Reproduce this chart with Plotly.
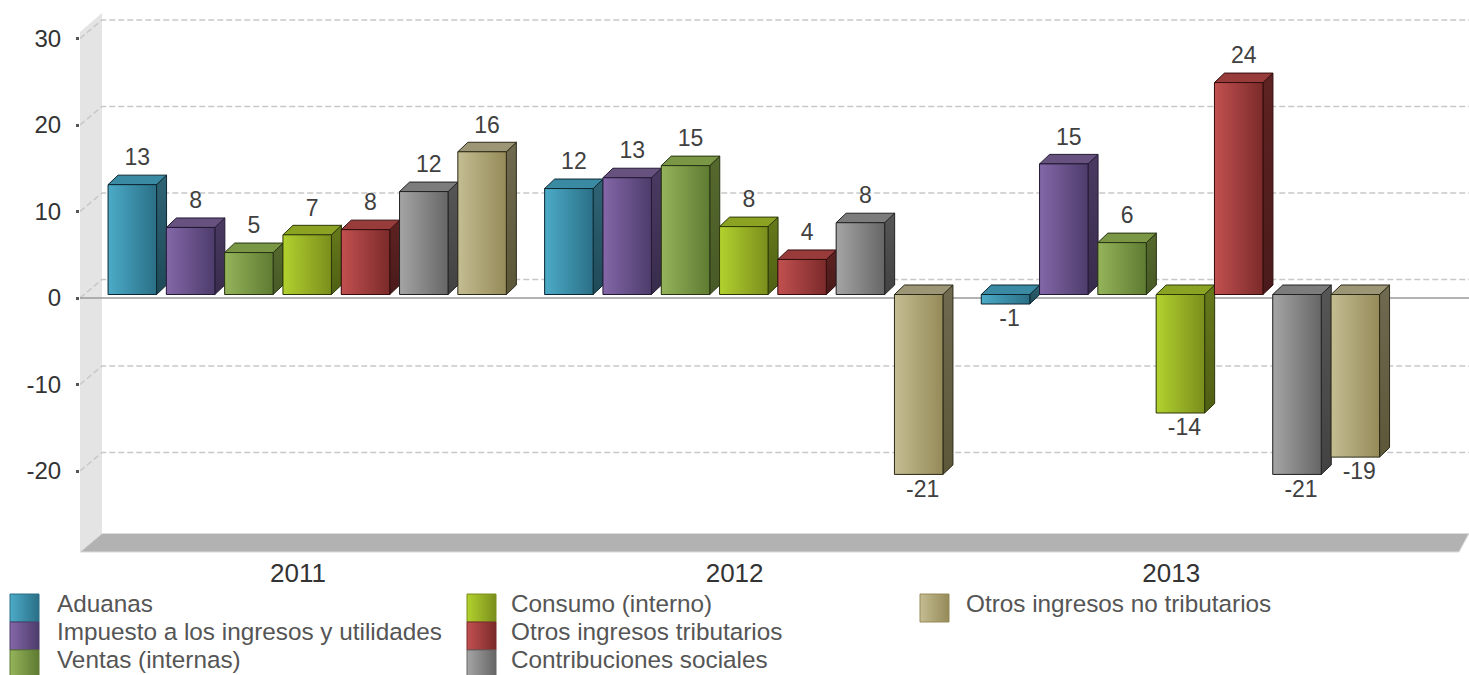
import plotly.graph_objects as go

W, H = 1469, 675
years = ["2011", "2012", "2013"]
series_names = ["Aduanas", "Impuesto a los ingresos y utilidades", "Ventas (internas)",
                "Consumo (interno)", "Otros ingresos tributarios", "Contribuciones sociales",
                "Otros ingresos no tributarios"]
aduanas = [12.7, 12.25, -1.1]
impuesto = [7.75, 13.5, 15.1]
ventas = [4.85, 14.9, 6.0]
consumo = [6.9, 7.85, -13.7]
otros_trib = [7.5, 4.05, 24.5]
contrib = [11.9, 8.3, -20.8]
otros_no_trib = [16.5, -20.8, -18.8]
values = [aduanas, impuesto, ventas, consumo, otros_trib, contrib, otros_no_trib]
labels = [[13, 12, -1], [8, 13, 15], [5, 15, 6], [7, 8, -14], [8, 4, 24], [12, 8, -21], [16, -21, -19]]
y_ticks = [-20, -10, 0, 10, 20, 30]
y_tick_text = ["-20", "-10", "0", "10", "20", "30"]

# (front-left, front-right, side-top, side-bottom, top, border)
palette = [
    ("#4cabc8", "#2a6f86", "#2f6475", "#1f4a58", "#3b8aa3", "#0c2731"),
    ("#8467a8", "#4d3c6b", "#4a3a62", "#382c4c", "#66517f", "#241a34"),
    ("#95b45a", "#5e7b32", "#55692e", "#485a26", "#7a9746", "#263212"),
    ("#b2d22e", "#7a8e1c", "#667a1b", "#4f5f14", "#8aa322", "#2c370a"),
    ("#c25050", "#7b2a2a", "#5e2222", "#4a1a1a", "#983b3b", "#330d0d"),
    ("#a5a5a5", "#666666", "#565656", "#424242", "#7c7c7c", "#222222"),
    ("#c4bd92", "#958a58", "#6f6a50", "#5c5738", "#9c9676", "#2c2a18"),
]

# pixel layout of the plot
L, B, R = 80, 553, W
ZERO_PX, ZERO_BAR_PX = 298, 294.5
PX_Y, PX_X = 8.65, 436.6
TICK0_PX = 298
xr = [(L - TICK0_PX) / PX_X, (R - TICK0_PX) / PX_X]
yr = [(ZERO_PX - B) / PX_Y, ZERO_PX / PX_Y]
yr2 = [(ZERO_BAR_PX - B) / PX_Y, ZERO_BAR_PX / PX_Y]

BAR_W = 48.5 / PX_X
STEP = 58.3 / PX_X
SHIFT = 9.2 / PX_X
DX, DY = 10 / PX_X, 9.5 / PX_Y
WX, WY = 22 / PX_X, 18.5 / PX_Y

fig = go.Figure()


def poly(xs, ys, fill=None, grad=None, line=None, xa="x", ya="y", width=1, name=None, mode="lines"):
    kw = dict(x=list(xs) + [xs[0]], y=list(ys) + [ys[0]], mode=mode, fill="toself", xaxis=xa, yaxis=ya,
              hoverinfo="skip", showlegend=False,
              line=dict(color=line or "rgba(0,0,0,0)", width=width if line else 0))
    if grad:
        kw["fillgradient"] = dict(type=grad[0], colorscale=[[0, grad[1]], [1, grad[2]]])
    else:
        kw["fillcolor"] = fill
    if name:
        kw["name"] = name
    fig.add_trace(go.Scatter(**kw))


# walls
y_low = yr[0] + 1 / PX_Y
poly([xr[0], xr[0] + WX, xr[0] + WX, xr[0]], [y_low, y_low + WY, yr[1] - 13 / PX_Y, yr[1] - 32 / PX_Y], fill="#e4e4e4")
poly([xr[0], xr[0] + WX, xr[1], xr[1] - 10 / PX_X], [y_low, y_low + WY, y_low + WY, y_low], fill="#b2b2b2", line="#dcdcdc")

# gridlines
for t in y_ticks:
    fig.add_trace(go.Scatter(x=[xr[0], xr[0] + WX, xr[1]], y=[t, t + WY, t + WY], mode="lines",
                             line=dict(color="#c8c8c8", width=1.5, dash="6px,3px"), hoverinfo="skip", showlegend=False))
# zero line
fig.add_trace(go.Scatter(x=xr, y=[0, 0], mode="lines", line=dict(color="#9a9a9a", width=1.3),
                         hoverinfo="skip", showlegend=False))

# bars
for k, (nm, vals, pal) in enumerate(zip(series_names, values, palette)):
    centers = [i + (k - 3) * STEP + SHIFT for i in range(len(years))]
    fig.add_trace(go.Bar(x=centers, y=vals, width=BAR_W, name=nm, marker=dict(color=pal[1], line=dict(width=0)),
                         xaxis="x", yaxis="y2", showlegend=False))

for k, (vals, pal, labs) in enumerate(zip(values, palette, labels)):
    for i, v in enumerate(vals):
        c = i + (k - 3) * STEP + SHIFT
        x0, x1 = c - BAR_W / 2, c + BAR_W / 2
        lo, hi = min(v, 0), max(v, 0)
        poly([x1, x1 + DX, x1 + DX, x1], [hi, hi + DY, lo + DY, lo], grad=("vertical", pal[3], pal[2]), line=pal[5], ya="y2")
        poly([x0, x0 + DX, x1 + DX, x1], [hi, hi + DY, hi + DY, hi], fill=pal[4], line=pal[5], ya="y2")
        poly([x0, x1, x1, x0], [lo, lo, hi, hi], grad=("horizontal", pal[0], pal[1]), line=pal[5], ya="y2")

# value labels
for k, (vals, labs) in enumerate(zip(values, labels)):
    xs, ys, ts = [], [], []
    for i, (v, lab) in enumerate(zip(vals, labs)):
        c = i + (k - 3) * STEP + SHIFT
        if v >= 0:
            xs.append(c + 5 / PX_X)
            ys.append(v + DY + 15.5 / PX_Y)
        else:
            xs.append(c + 4 / PX_X)
            ys.append(v - 16.5 / PX_Y)
        ts.append(str(lab))
    fig.add_trace(go.Scatter(x=xs, y=ys, text=ts, mode="text", textposition="middle center", xaxis="x", yaxis="y2",
                             textfont=dict(family="Liberation Sans", size=23, color="#404040"),
                             hoverinfo="skip", showlegend=False, cliponaxis=False))

# legend built on a page-wide pixel axis
cols = [(10, 57), (467, 511), (920, 966)]
rows = [594, 622, 650]
text_rows = [606, 634, 662]
for k, (nm, pal) in enumerate(zip(series_names, palette)):
    sx, tx = cols[k // 3]
    sy = rows[k % 3]
    poly([sx, sx + 29, sx + 29, sx], [sy, sy, sy + 28, sy + 28], grad=("horizontal", pal[0], pal[1]), line=pal[1], xa="x2", ya="y3")
    fig.add_trace(go.Scatter(x=[tx], y=[text_rows[k % 3]], text=[nm], mode="text", textposition="middle right", xaxis="x2", yaxis="y3",
                             textfont=dict(family="Liberation Sans", size=24.3, color="#555555"), hoverinfo="skip",
                             showlegend=False, cliponaxis=False))

fig.update_layout(
    width=W, height=H, margin=dict(l=0, r=0, t=0, b=0, pad=0), paper_bgcolor="white", plot_bgcolor="rgba(0,0,0,0)",
    barmode="overlay", showlegend=False,
    font=dict(family="Liberation Sans", size=22, color="#333333"),
    xaxis=dict(domain=[L / W, 1], range=xr, tickmode="array", tickvals=[0, 1, 2], ticktext=years, showgrid=False,
               zeroline=False, showline=False, ticks="", ticklabelstandoff=2,
               tickfont=dict(family="Liberation Sans", size=26, color="#333333")),
    yaxis=dict(domain=[(H - B) / H, 1], range=yr, tickmode="array", tickvals=y_ticks, ticktext=y_tick_text,
               showgrid=False, zeroline=False,
               showline=False, ticks="outside", ticklen=3, tickwidth=3, tickcolor="#555555", ticklabelstandoff=10,
               tickfont=dict(family="Liberation Sans", size=24, color="#333333")),
    yaxis2=dict(overlaying="y", range=yr2, visible=False),
    xaxis2=dict(domain=[0, 1], range=[0, W], visible=False, anchor="y3"),
    yaxis3=dict(domain=[0, 1], range=[H, 0], visible=False, anchor="x2"),
)

fig.write_html("out.html", config={"displayModeBar": False},
               post_script="document.body.style.margin='0';document.body.style.overflow='hidden';")
